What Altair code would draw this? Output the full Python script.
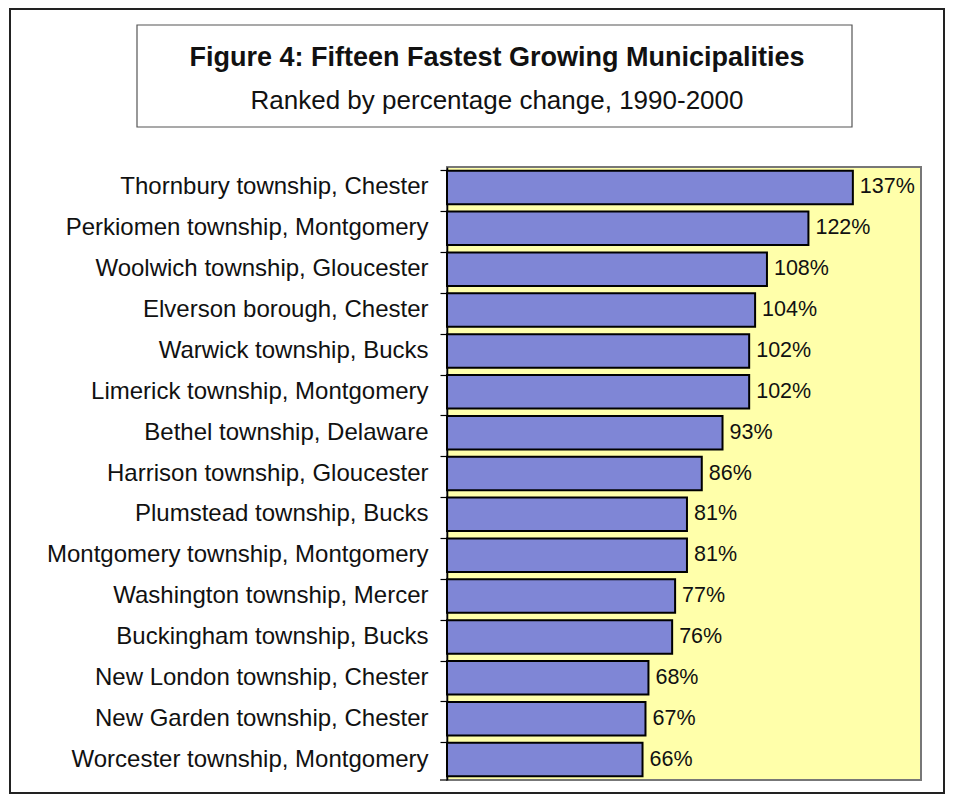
import altair as alt
import pandas as pd

municipalities = [
    "Thornbury township, Chester",
    "Perkiomen township, Montgomery",
    "Woolwich township, Gloucester",
    "Elverson borough, Chester",
    "Warwick township, Bucks",
    "Limerick township, Montgomery",
    "Bethel township, Delaware",
    "Harrison township, Gloucester",
    "Plumstead township, Bucks",
    "Montgomery township, Montgomery",
    "Washington township, Mercer",
    "Buckingham township, Bucks",
    "New London township, Chester",
    "New Garden township, Chester",
    "Worcester township, Montgomery",
]
pct_change = [137, 122, 108, 104, 102, 102, 93, 86, 81, 81, 77, 76, 68, 67, 66]

title_text = "Figure 4:  Fifteen Fastest Growing Municipalities"
subtitle_text = "Ranked by percentage change, 1990-2000"

df = pd.DataFrame({"name": municipalities, "pct": pct_change})
df["label"] = df["pct"].astype(str) + "%"

FONT = "Liberation Sans"
W, H = 474, 613

y_enc = alt.Y(
    "name:N",
    sort=None,
    title=None,
    scale=alt.Scale(paddingInner=0.18, paddingOuter=0.09),
    axis=alt.Axis(
        bandPosition=0,
        domainColor="black",
        domainWidth=1.5,
        tickColor="black",
        tickSize=7,
        tickWidth=1.2,
        labelFont=FONT,
        labelFontSize=24,
        labelColor="#111",
        labelPadding=12,
        labelLimit=0,
    ),
)
x_enc = alt.X("pct:Q", scale=alt.Scale(domain=[0, 160], nice=False), axis=None)

base = alt.Chart(df)

bars = base.mark_bar(fill="#7F86D6", stroke="black", strokeWidth=2).encode(x=x_enc, y=y_enc)
labels = base.mark_text(align="left", baseline="middle", dx=7, font=FONT, fontSize=21.5, color="#111").encode(
    x=x_enc, y=alt.Y("name:N", sort=None), text="label:N"
)

one = alt.Data(values=[{}])
outer = alt.Chart(one).mark_rect(fill=None, stroke="#222", strokeWidth=2).encode(
    x=alt.value(-437), x2=alt.value(497), y=alt.value(-158), y2=alt.value(626)
)
bottom_tick = alt.Chart(one).mark_rule(color="black", strokeWidth=1.2).encode(
    x=alt.value(-7), x2=alt.value(0), y=alt.value(H), y2=alt.value(H)
)
title_box = alt.Chart(one).mark_rect(fill="white", stroke="#555", strokeWidth=1.2).encode(
    x=alt.value(-310), x2=alt.value(405), y=alt.value(-142), y2=alt.value(-40)
)
title = alt.Chart(one).mark_text(font=FONT, fontSize=27, fontWeight="bold", color="#111", baseline="alphabetic").encode(
    x=alt.value(50), y=alt.value(-101), text=alt.value(title_text)
)
subtitle = alt.Chart(one).mark_text(font=FONT, fontSize=26, color="#111", baseline="alphabetic").encode(
    x=alt.value(50), y=alt.value(-58), text=alt.value(subtitle_text)
)

chart = alt.layer(outer, title_box, title, subtitle, bars, labels, bottom_tick).properties(
    width=W,
    height=H,
    autosize=alt.AutoSizeParams(type="none"),
    padding={"left": 439, "top": 159, "right": 24, "bottom": 15},
    background="white",
).configure_view(fill="#FFFFAA", stroke="#777", strokeWidth=2)

chart.save("out.html", embed_options={"renderer": "svg", "actions": False})
